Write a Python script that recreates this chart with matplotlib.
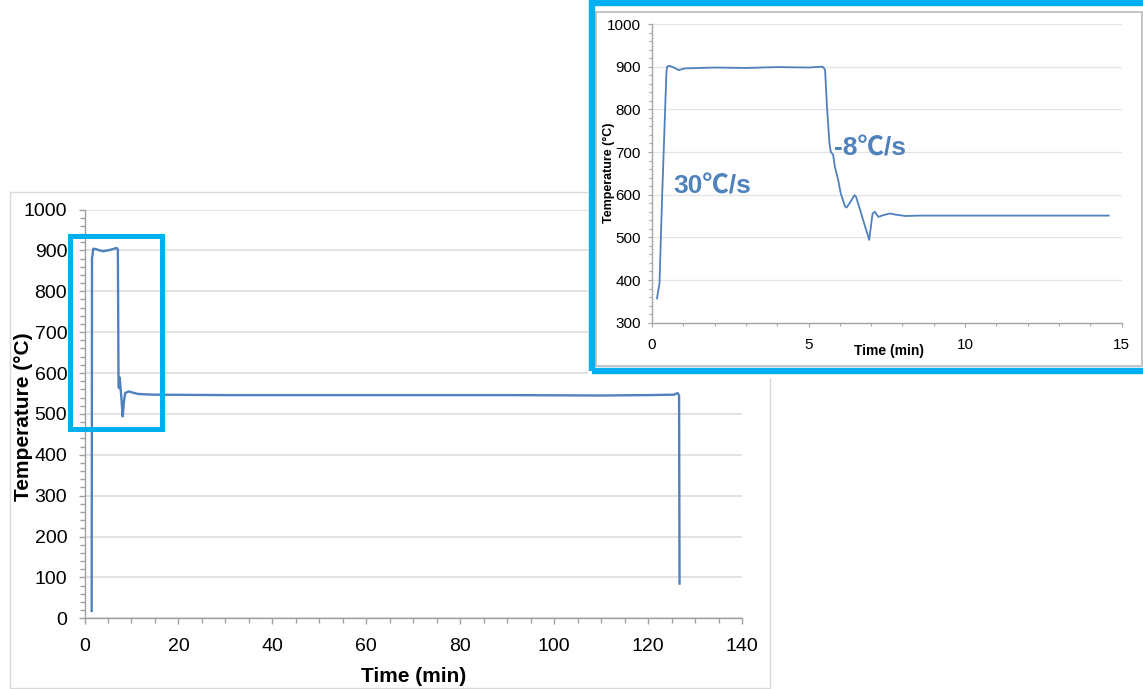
import matplotlib
matplotlib.use("Agg")
import matplotlib.pyplot as plt
from matplotlib.patches import Rectangle
from matplotlib.ticker import MultipleLocator

plt.rcParams['font.family'] = ['Liberation Sans', 'Noto Sans CJK SC', 'DejaVu Sans']

# ---- data: full thermal cycle (main chart) ----
main_time = [1.53, 1.6, 1.87, 2.5, 3.2, 4.0, 5.0, 6.0, 6.85, 7.1, 7.25, 7.35, 7.45,
             7.6, 7.7, 7.85, 8.13, 8.4, 8.67, 9.4, 10.3, 11.3, 12.7, 15, 30, 50, 70,
             90, 110, 120, 125.5, 126.3, 126.6, 126.7]
main_temp = [18, 880, 904, 903, 900, 898, 900, 903, 906, 902, 570, 563, 590,
             575, 560, 540, 494, 530, 551, 555, 552, 549, 548, 547, 546, 546, 546,
             546, 545, 546, 547, 551, 545, 85]

# ---- data: first 15 min (inset) ----
inset_time = [0.16, 0.24, 0.32, 0.46, 0.48, 0.56, 0.7, 0.85, 1.06, 2, 3, 4, 5, 5.43,
              5.48, 5.53, 5.59, 5.67, 5.71, 5.79, 5.84, 5.95, 6.03, 6.17, 6.22, 6.38,
              6.47, 6.52, 6.65, 6.81, 6.94, 7.02, 7.05, 7.12, 7.23, 7.39, 7.6, 7.8,
              8.1, 8.56, 10.7, 12.5, 14.59]
inset_temp = [357, 393, 588, 885, 900, 902, 898, 892, 896, 898, 897, 899, 898, 900,
              898, 892, 806, 720, 701, 693, 666, 634, 603, 572, 570, 588,
              599, 595, 564, 525, 494, 541, 556, 560, 548, 552, 556, 553,
              550, 551, 551, 551, 551]

main_xticks = [0, 20, 40, 60, 80, 100, 120, 140]
main_yticks = [0, 100, 200, 300, 400, 500, 600, 700, 800, 900, 1000]
inset_xticks = [0, 5, 10, 15]
inset_yticks = [300, 400, 500, 600, 700, 800, 900, 1000]
rate_labels = ["30℃/s", "-8℃/s"]

W, H = 1143, 689
LINE = '#4F81BD'
BLUE = '#00B0F0'

fig = plt.figure(figsize=(W / 100, H / 100), dpi=100)


def fx(x):
    return x / W


def fy(y):
    return 1 - y / H


# main chart outer frame
fig.patches.append(Rectangle((fx(9.5), fy(688.3)), fx(770) - fx(9.5), fy(192) - fy(688.3),
                             transform=fig.transFigure, fill=False, ec='#D9D9D9', lw=1,
                             zorder=-1))

# ---- main axes ----
ax = fig.add_axes([fx(84.5), fy(618.3), fx(742) - fx(84.5), fy(209.5) - fy(618.3)])
ax.set_zorder(0)
ax.plot(main_time, main_temp, color=LINE, lw=1.7, zorder=3)
ax.set_xlim(0, 140)
ax.set_ylim(0, 1000)
ax.set_xticks(main_xticks)
ax.set_yticks(main_yticks)
ax.xaxis.set_minor_locator(MultipleLocator(5))
ax.yaxis.set_minor_locator(MultipleLocator(20))
for s in ['top', 'right']:
    ax.spines[s].set_visible(False)
for s in ['left', 'bottom']:
    ax.spines[s].set_color('#A0A0A0')
    ax.spines[s].set_linewidth(1.0)
ax.tick_params(which='major', direction='out', length=4.5, width=1, color='#A0A0A0',
               labelsize=14, labelcolor='black')
ax.tick_params(which='minor', direction='out', length=3.5, width=1, color='#A0A0A0')
ax.tick_params(axis='x', which='major', pad=10)
ax.tick_params(axis='y', which='major', pad=8)
ax.grid(axis='y', which='major', color='#DDDDDD', lw=1.2)
ax.set_axisbelow(True)
ax.add_patch(Rectangle((-3.02, 463.6), 16.6 + 3.02, 934.6 - 463.6, fill=False,
                       ec=BLUE, lw=3.6, clip_on=False, zorder=5))

fig.text(fx(24), fy(417), "Temperature (°C)", rotation=90, ha='center', va='center',
         fontsize=15, fontweight='bold')
fig.text(fx(414), fy(676), "Time (min)", ha='center', va='center', fontsize=15,
         fontweight='bold')

# ---- inset background & frames ----
fig.patches.append(Rectangle((fx(588), fy(378)), 1.2, fy(0) - fy(378) + 0.1,
                             transform=fig.transFigure, fc='white', ec='none', zorder=2))
fig.patches.append(Rectangle((fx(596), fy(366.3)), fx(1141.7) - fx(596), fy(11.7) - fy(366.3),
                             transform=fig.transFigure, fill=False, ec='#BFBFBF', lw=1.3,
                             zorder=2.1))
fig.patches.append(Rectangle((fx(592.3), fy(371.5)), fx(1150) - fx(592.3), fy(3.5) - fy(371.5),
                             transform=fig.transFigure, fill=False, ec=BLUE, lw=4.6,
                             zorder=4))

# ---- inset axes ----
ax2 = fig.add_axes([fx(652), fy(322.7), fx(1121.5) - fx(652), fy(24) - fy(322.7)])
ax2.set_zorder(3)
ax2.patch.set_visible(False)
ax2.plot(inset_time, inset_temp, color=LINE, lw=1.3, zorder=3)
ax2.set_xlim(0, 15)
ax2.set_ylim(300, 1000)
ax2.set_xticks(inset_xticks)
ax2.set_yticks(inset_yticks)
ax2.xaxis.set_minor_locator(MultipleLocator(1))
ax2.yaxis.set_minor_locator(MultipleLocator(20))
for s in ['top', 'right']:
    ax2.spines[s].set_visible(False)
for s in ['left', 'bottom']:
    ax2.spines[s].set_color('#A6A6A6')
    ax2.spines[s].set_linewidth(1.0)
ax2.tick_params(which='both', direction='out', color='#A6A6A6', width=0.8)
ax2.tick_params(which='major', length=3, labelsize=11, labelcolor='black')
ax2.tick_params(which='minor', length=2.5)
ax2.tick_params(axis='x', which='major', pad=8)
ax2.tick_params(axis='y', which='major', pad=5)
ax2.grid(axis='y', which='major', color='#E4E4E4', lw=0.9)
ax2.set_axisbelow(True)

ax2.text(1.92, 620, rate_labels[0], ha='center', va='center', fontsize=19,
         fontweight='bold', color=LINE)
ax2.text(6.96, 709, rate_labels[1], ha='center', va='center', fontsize=19,
         fontweight='bold', color=LINE)

fig.text(fx(609), fy(173), "Temperature (°C)", rotation=90, ha='center', va='center',
         fontsize=9, fontweight='bold', zorder=5)
fig.text(fx(889), fy(351), "Time (min)", ha='center', va='center', fontsize=10,
         fontweight='bold', zorder=5)

fig.savefig("out.png", dpi=100)
